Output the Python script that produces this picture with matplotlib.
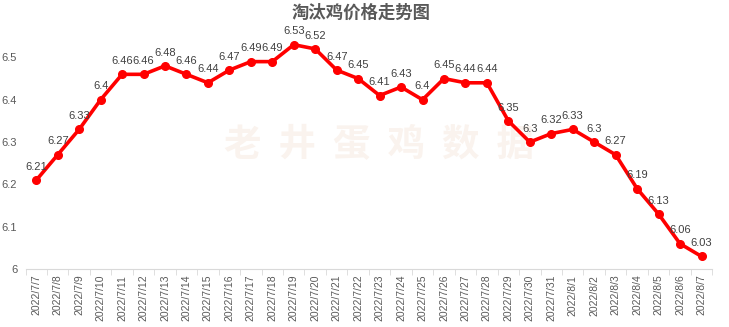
import matplotlib.pyplot as plt

plt.rcParams['font.family'] = ['Noto Sans CJK SC', 'DejaVu Sans']

# 日期和价格
dates = ['2022/7/7', '2022/7/8', '2022/7/9', '2022/7/10', '2022/7/11', '2022/7/12',
         '2022/7/13', '2022/7/14', '2022/7/15', '2022/7/16', '2022/7/17', '2022/7/18',
         '2022/7/19', '2022/7/20', '2022/7/21', '2022/7/22', '2022/7/23', '2022/7/24',
         '2022/7/25', '2022/7/26', '2022/7/27', '2022/7/28', '2022/7/29', '2022/7/30',
         '2022/7/31', '2022/8/1', '2022/8/2', '2022/8/3', '2022/8/4', '2022/8/5',
         '2022/8/6', '2022/8/7']
prices = [6.21, 6.27, 6.33, 6.4, 6.46, 6.46, 6.48, 6.46, 6.44, 6.47, 6.49, 6.49,
          6.53, 6.52, 6.47, 6.45, 6.41, 6.43, 6.4, 6.45, 6.44, 6.44, 6.35, 6.3,
          6.32, 6.33, 6.3, 6.27, 6.19, 6.13, 6.06, 6.03]
yticks = [6, 6.1, 6.2, 6.3, 6.4, 6.5]

fig = plt.figure(figsize=(7.29, 3.27), dpi=100)
ax = fig.add_axes([0.035, 0.177, 0.942, 0.777])

x = list(range(len(dates)))

# 水印
ax.text(0.515, 0.49, '老  井  蛋  鸡  数  据', transform=ax.transAxes,
        fontsize=27, fontweight='bold', color='#faf3ee', ha='center', va='center',
        zorder=0)

ax.plot(x, prices, color='#ff0000', lw=2.6, marker='o', ms=5.5, zorder=3)

for xi, v in zip(x, prices):
    ax.annotate(f'{v:g}', (xi, v), xytext=(0, 6), textcoords='offset points',
                ha='center', va='bottom', fontsize=8, color='#404040',
                family=['Liberation Sans'])

ax.set_xlim(-0.5, len(dates) - 0.5)
ax.set_ylim(6, 6.6)
ax.set_yticks(yticks)
ax.set_yticklabels([f'{t:g}' for t in yticks], fontsize=8, color='#595959',
                   family=['Liberation Sans'])
ax.tick_params(axis='y', length=0, pad=6)

ax.set_xticks(x)
ax.set_xticklabels(dates, rotation=90, fontsize=7.5, color='#595959',
                   family=['Liberation Sans'])
ax.set_xticks([i - 0.5 for i in range(len(dates) + 1)], minor=True)
ax.tick_params(axis='x', which='major', length=0, pad=4)
ax.tick_params(axis='x', which='minor', length=4, color='#d9d9d9')

for s in ['top', 'right', 'left']:
    ax.spines[s].set_visible(False)
ax.spines['bottom'].set_color('#d9d9d9')

fig.text(0.495, 0.962, '淘汰鸡价格走势图', ha='center', va='center',
         fontsize=12.5, fontweight='bold', color='#595959')

fig.savefig('out.png', dpi=100)
